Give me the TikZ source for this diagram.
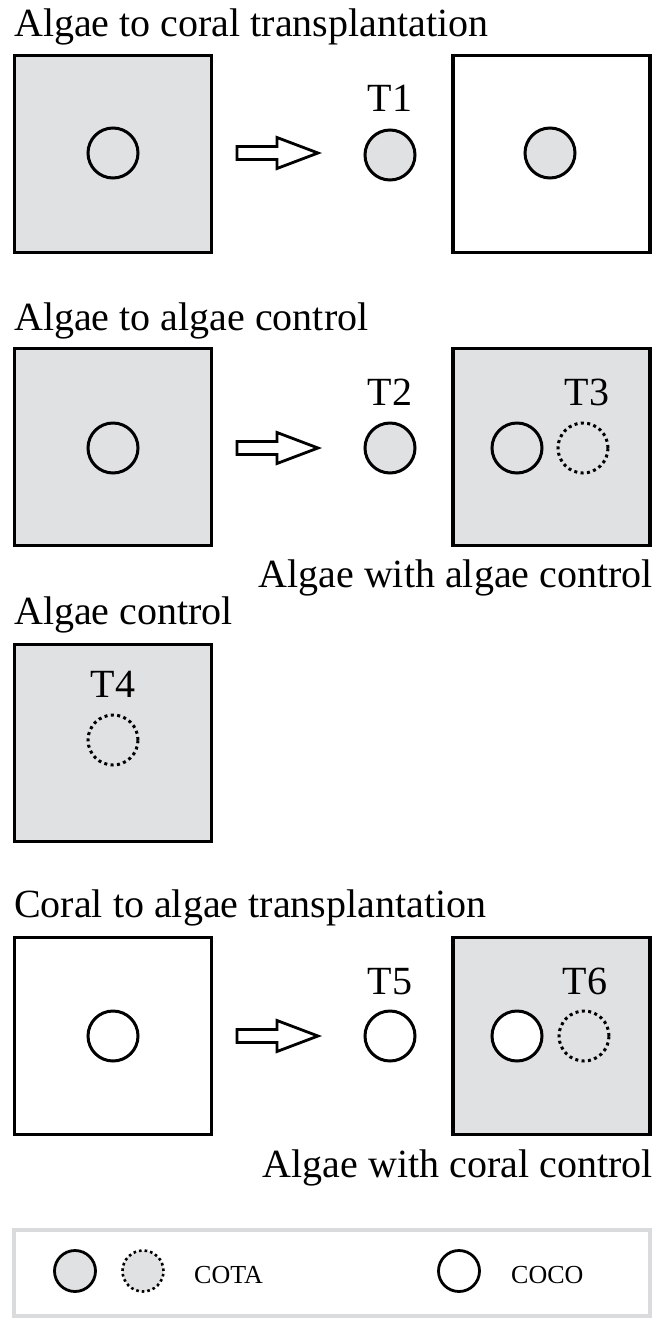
\documentclass[tikz,border=0pt]{standalone}
\usepackage{fontspec}
\setmainfont{Liberation Serif}
\usetikzlibrary{calc}
\definecolor{algae}{RGB}{224,225,227}
\definecolor{legline}{RGB}{218,219,221}
\begin{document}
\begin{tikzpicture}[x=1pt,y=-1pt,
  plot/.style={draw=black,line width=3.2pt,minimum size=197pt,inner sep=0pt,rectangle},
  algaeplot/.style={plot,fill=algae},
  coralplot/.style={plot,fill=white},
  tile/.style={circle,draw=black,line width=3pt,minimum size=50pt,inner sep=0pt},
  cota/.style={tile,fill=algae},
  coco/.style={tile,fill=white},
  ctrl/.style={tile,line width=3pt,dash pattern=on 3pt off 3.4pt},
  ttl/.style={font=\fontsize{40}{45}\selectfont,inner sep=0pt},
  lab/.style={font=\fontsize{40}{45}\selectfont,inner sep=0pt,anchor=base},
  leg/.style={font=\fontsize{26}{30}\selectfont,inner sep=0pt,anchor=base west},
  blk/.style={draw=black,line width=2.8pt,fill=white,line join=miter}
]
\useasboundingbox (0,0) rectangle (656,1318);

% ---------- Section 1 ----------
\node[ttl,anchor=base west] (t1) at (14,36) {Algae to coral transplantation};
\node[algaeplot] (b1) at (113,154) {};
\node[tile] (c1) at (113,153) {};
\node[cota] (p1) at (390,155) {};
\node[lab] (l1) at (390,111) {T1};
\node[coralplot] (b2) at (551.5,154) {};
\node[cota] (c2) at (550,153) {};

% ---------- Section 2 ----------
\node[ttl,anchor=base west] (t2) at (14,330) {Algae to algae control};
\node[algaeplot] (b3) at (113,447) {};
\node[tile] (c3) at (113,448) {};
\node[cota] (p2) at (390,448) {};
\node[lab] (l2) at (390,405) {T2};
\node[algaeplot] (b4) at (551.5,447) {};
\node[tile] (c4) at (517,448) {};
\node[ctrl] (c5) at (583,448) {};
\node[lab] (l3) at (587,405) {T3};
\node[ttl,anchor=base east] (s2) at (653,587) {Algae with algae control};

% ---------- Section 3 ----------
\node[ttl,anchor=base west] (t3) at (14,624) {Algae control};
\node[algaeplot] (b5) at (113,743) {};
\node[ctrl] (c6) at (113,740) {};
\node[lab] (l4) at (113,697) {T4};

% ---------- Section 4 ----------
\node[ttl,anchor=base west] (t4) at (14,917) {Coral to algae transplantation};
\node[coralplot] (b6) at (113,1036) {};
\node[tile] (c7) at (113,1036) {};
\node[coco] (p3) at (390,1036) {};
\node[lab] (l5) at (390,994) {T5};
\node[algaeplot] (b7) at (551.5,1036) {};
\node[coco] (c8) at (517,1036) {};
\node[ctrl] (c9) at (584,1036) {};
\node[lab] (l6) at (585,994) {T6};
\node[ttl,anchor=base east] (s4) at (653,1177) {Algae with coral control};

% ---------- block arrows ----------
\foreach \yc in {153,448,1036}{
  \draw[blk] (237,\yc-6.5) -- (277,\yc-6.5) -- (277,\yc-15.5) -- (318,\yc)
     -- (277,\yc+15.5) -- (277,\yc+6.5) -- (237,\yc+6.5) -- cycle;
}

% ---------- legend ----------
\draw[legline,line width=4pt] (14,1230) rectangle (650,1316);
\node[cota,minimum size=41pt,line width=2.8pt] (g1) at (75,1271) {};
\node[ctrl,fill=algae,minimum size=41pt,line width=2.6pt,dash pattern=on 2.6pt off 3pt] (g2) at (143,1271) {};
\node[leg] (gt1) at (194,1283) {COTA};
\node[coco,minimum size=41pt,line width=2.8pt] (g3) at (459,1271) {};
\node[leg] (gt2) at (511,1283) {COCO};
\end{tikzpicture}
\end{document}
